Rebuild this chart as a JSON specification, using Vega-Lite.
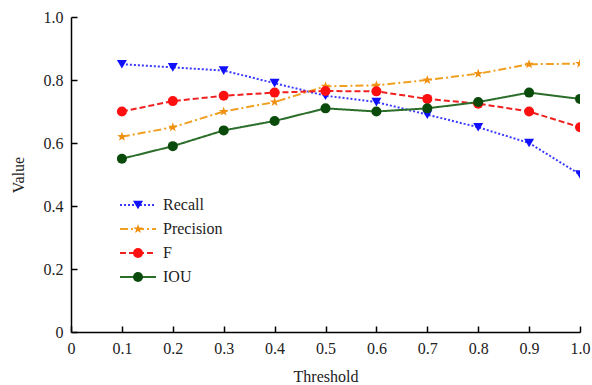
{
  "$schema": "https://vega.github.io/schema/vega-lite/v6.json",
  "width": 509,
  "height": 315,
  "autosize": {"type": "none"},
  "padding": {"left": 71, "top": 17, "right": 12, "bottom": 53},
  "background": "white",
  "config": {
    "view": {"stroke": null},
    "font": "Liberation Serif",
    "axis": {
      "grid": false,
      "domainColor": "#000000",
      "domainWidth": 1.5,
      "tickColor": "#000000",
      "tickWidth": 1.5,
      "tickSize": -6,
      "labelFont": "Liberation Serif",
      "labelFontSize": 16,
      "labelColor": "#222222",
      "titleFont": "Liberation Serif",
      "titleFontSize": 16,
      "titleFontWeight": "normal",
      "titleColor": "#222222"
    },
    "legend": {
      "labelFont": "Liberation Serif",
      "labelFontSize": 16,
      "labelColor": "#222222",
      "padding": 0,
      "rowPadding": 8
    }
  },
  "data": {
    "values": [
      {"threshold": 0.1, "series": "Recall", "value": 0.85},
      {"threshold": 0.2, "series": "Recall", "value": 0.84},
      {"threshold": 0.3, "series": "Recall", "value": 0.83},
      {"threshold": 0.4, "series": "Recall", "value": 0.79},
      {"threshold": 0.5, "series": "Recall", "value": 0.75},
      {"threshold": 0.6, "series": "Recall", "value": 0.73},
      {"threshold": 0.7, "series": "Recall", "value": 0.69},
      {"threshold": 0.8, "series": "Recall", "value": 0.65},
      {"threshold": 0.9, "series": "Recall", "value": 0.60},
      {"threshold": 1.0, "series": "Recall", "value": 0.50},
      {"threshold": 0.1, "series": "Precision", "value": 0.62},
      {"threshold": 0.2, "series": "Precision", "value": 0.65},
      {"threshold": 0.3, "series": "Precision", "value": 0.70},
      {"threshold": 0.4, "series": "Precision", "value": 0.73},
      {"threshold": 0.5, "series": "Precision", "value": 0.78},
      {"threshold": 0.6, "series": "Precision", "value": 0.783},
      {"threshold": 0.7, "series": "Precision", "value": 0.80},
      {"threshold": 0.8, "series": "Precision", "value": 0.82},
      {"threshold": 0.9, "series": "Precision", "value": 0.85},
      {"threshold": 1.0, "series": "Precision", "value": 0.852},
      {"threshold": 0.1, "series": "F", "value": 0.70},
      {"threshold": 0.2, "series": "F", "value": 0.733},
      {"threshold": 0.3, "series": "F", "value": 0.75},
      {"threshold": 0.4, "series": "F", "value": 0.76},
      {"threshold": 0.5, "series": "F", "value": 0.765},
      {"threshold": 0.6, "series": "F", "value": 0.764},
      {"threshold": 0.7, "series": "F", "value": 0.74},
      {"threshold": 0.8, "series": "F", "value": 0.725},
      {"threshold": 0.9, "series": "F", "value": 0.70},
      {"threshold": 1.0, "series": "F", "value": 0.65},
      {"threshold": 0.1, "series": "IOU", "value": 0.55},
      {"threshold": 0.2, "series": "IOU", "value": 0.59},
      {"threshold": 0.3, "series": "IOU", "value": 0.64},
      {"threshold": 0.4, "series": "IOU", "value": 0.67},
      {"threshold": 0.5, "series": "IOU", "value": 0.71},
      {"threshold": 0.6, "series": "IOU", "value": 0.70},
      {"threshold": 0.7, "series": "IOU", "value": 0.71},
      {"threshold": 0.8, "series": "IOU", "value": 0.73},
      {"threshold": 0.9, "series": "IOU", "value": 0.76},
      {"threshold": 1.0, "series": "IOU", "value": 0.74}
    ]
  },
  "encoding": {
    "x": {
      "field": "threshold", "type": "quantitative",
      "scale": {"domain": [0, 1], "nice": false, "zero": true},
      "axis": {"values": [0, 0.1, 0.2, 0.3, 0.4, 0.5, 0.6, 0.7, 0.8, 0.9, 1.0],
        "labelExpr": "datum.value == 0 ? '0' : format(datum.value, '.1f')",
        "labelFont": "Liberation Serif",
        "title": "Threshold", "labelPadding": 14, "titlePadding": 12, "labelFlush": false}
    },
    "y": {
      "field": "value", "type": "quantitative",
      "scale": {"domain": [0, 1], "nice": false},
      "axis": {"values": [0, 0.2, 0.4, 0.6, 0.8, 1.0],
        "labelExpr": "datum.value == 0 ? '0' : format(datum.value, '.1f')",
        "labelFont": "Liberation Serif",
        "title": "Value", "labelPadding": 14, "titlePadding": 17, "labelFlush": false}
    }
  },
  "layer": [
    {
      "mark": {"type": "line", "strokeWidth": 2, "clip": true},
      "encoding": {
        "stroke": {
          "field": "series", "type": "nominal",
          "scale": {"domain": ["Recall", "Precision", "F", "IOU"], "range": ["#3a3aff", "#f0a020", "#f02020", "#2a6e2a"]},
          "legend": {"orient": "none", "legendX": 59, "legendY": 180, "title": null, "symbolType": "M-3,0H3", "symbolSize": 144, "symbolStrokeWidth": 1.8, "labelOffset": 17}
        },
        "strokeDash": {
          "field": "series", "type": "nominal",
          "scale": {"domain": ["Recall", "Precision", "F", "IOU"], "range": [[2, 2], [8, 3, 2, 3], [6, 3], [1, 0]]},
          "legend": {"orient": "none", "legendX": 59, "legendY": 180, "title": null, "symbolType": "M-3,0H3", "symbolSize": 144, "symbolStrokeWidth": 1.8, "labelOffset": 17}
        },
        "detail": {"field": "series"}
      }
    },
    {
      "mark": {"type": "point", "filled": true, "opacity": 1, "size": 100, "clip": true},
      "encoding": {
        "color": {
          "field": "series", "type": "nominal",
          "scale": {"domain": ["Recall", "Precision", "F", "IOU", "~"], "range": ["#1010ff", "#f09010", "#ff1010", "#0a4a0a", "transparent"]},
          "legend": {"orient": "none", "legendX": 59, "legendY": 180, "title": null, "symbolSize": 100, "symbolStrokeWidth": 0, "labelExpr": "''", "labelOffset": 0}
        },
        "shape": {
          "field": "series", "type": "nominal",
          "scale": {"domain": ["Recall", "Precision", "F", "IOU", "~"], "range": ["triangle-down", "M0,-1L0.235,-0.324L0.951,-0.309L0.38,0.124L0.588,0.809L0,0.4L-0.588,0.809L-0.38,0.124L-0.951,-0.309L-0.235,-0.324Z", "circle", "circle", "circle"]},
          "legend": {"orient": "none", "legendX": 59, "legendY": 180, "title": null, "symbolSize": 100, "symbolStrokeWidth": 0, "labelExpr": "''", "labelOffset": 0}
        }
      }
    }
  ]
}
